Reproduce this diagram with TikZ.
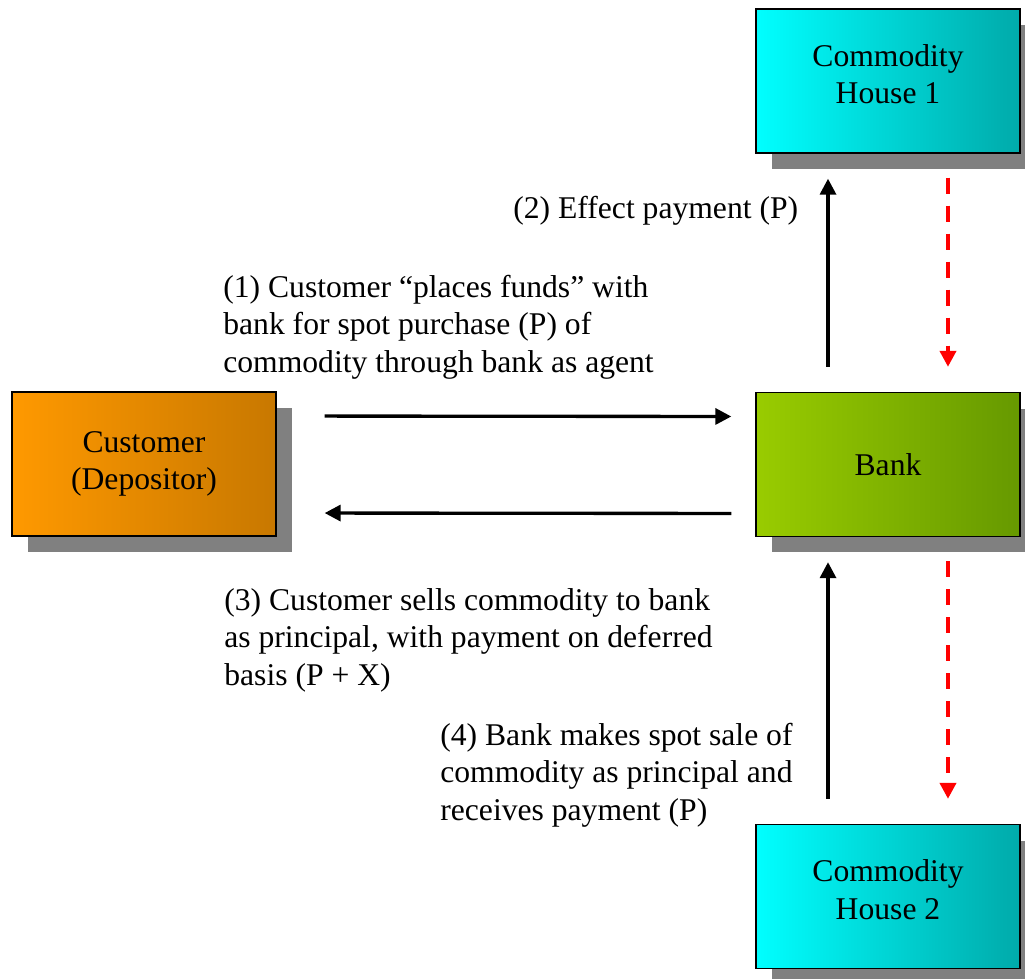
\documentclass[tikz,border=0pt]{standalone}
\usepackage{fontspec}
\setmainfont{Liberation Serif}
\usepackage{tikz}
\usetikzlibrary{arrows.meta,shadows}

\begin{document}
\begin{tikzpicture}[x=0.02cm,y=-0.02cm,
  font=\fontsize{18}{21.3}\selectfont,
  party/.style={draw=black, line width=0.8pt, minimum width=5.28cm, minimum height=2.88cm,
    inner sep=0pt, align=center,
    drop shadow={shadow xshift=0.32cm, shadow yshift=-0.32cm, fill=black!50, opacity=1}},
  house/.style={party, text depth=0.28cm, left color={rgb,255:red,0;green,255;blue,255}, right color={rgb,255:red,0;green,170;blue,170}},
  flow/.style={line width=1.9pt, -{Triangle[length=0.32cm,width=0.32cm]}},
  goods/.style={flow, line width=2.2pt, red, dash pattern=on 0.32cm off 0.24cm},
  note/.style={anchor=base west, align=left, inner sep=0pt}]
\useasboundingbox (0,0) rectangle (1025,978);

\node[house] (house1) at (888,81) {Commodity\\House 1};
\node[party, left color={rgb,255:red,255;green,153;blue,0}, right color={rgb,255:red,200;green,120;blue,0}] (cust) at (144,464) {Customer\\(Depositor)};
\node[party, left color={rgb,255:red,153;green,204;blue,0}, right color={rgb,255:red,102;green,153;blue,0}] (bank) at (888,464.5) {Bank};
\node[house] (house2) at (888,896.5) {Commodity\\House 2};

\draw[flow, shorten <=0.96cm, shorten >=0.48cm] ([yshift=0.96cm]cust.east) -- ([yshift=0.96cm]bank.west);
\draw[flow, shorten <=0.48cm, shorten >=0.96cm] ([yshift=-0.98cm]bank.west) -- ([yshift=-0.98cm]cust.east);
\draw[flow, shorten <=0.5cm, shorten >=0.5cm] ([xshift=-1.2cm]bank.north) -- ([xshift=-1.2cm]house1.south);
\draw[goods, shorten <=0.48cm, shorten >=0.5cm] ([xshift=1.2cm]house1.south) -- ([xshift=1.2cm]bank.north);
\draw[flow, shorten <=0.5cm, shorten >=0.5cm] ([xshift=-1.2cm]house2.north) -- ([xshift=-1.2cm]bank.south);
\draw[goods, shorten <=0.48cm, shorten >=0.5cm] ([xshift=1.2cm]bank.south) -- ([xshift=1.2cm]house2.north);

\node[note] (step2) at (513,218) {(2) Effect payment (P)};
\node[note] (step1) at (223,372) {(1) Customer “places funds” with\\bank for spot purchase (P) of\\commodity through bank as agent};
\node[note] (step3) at (224,685) {(3) Customer sells commodity to bank\\as principal, with payment on deferred\\basis (P + X)};
\node[note] (step4) at (440,820) {(4) Bank makes spot sale of\\commodity as principal and\\receives payment (P)};
\end{tikzpicture}
\end{document}
